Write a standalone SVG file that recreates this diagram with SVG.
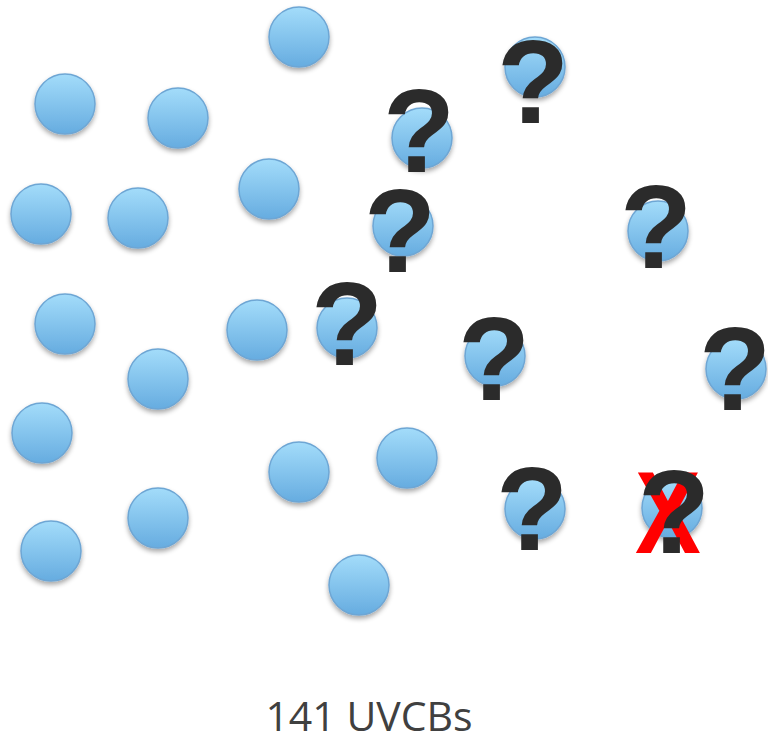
<svg xmlns="http://www.w3.org/2000/svg" width="768" height="736" viewBox="0 0 768 736">
<defs>
<linearGradient id="g" x1="0" y1="0" x2="0" y2="1">
<stop offset="0" stop-color="#a3dcfa"/>
<stop offset="1" stop-color="#66ace0"/>
</linearGradient>
<filter id="sh" x="-30%" y="-30%" width="160%" height="170%">
<feGaussianBlur in="SourceAlpha" stdDeviation="2.5"/>
<feOffset dy="3" result="b"/>
<feComponentTransfer><feFuncA type="linear" slope="0.35"/></feComponentTransfer>
<feMerge><feMergeNode/><feMergeNode in="SourceGraphic"/></feMerge>
</filter>
</defs>
<style>
.c{fill:url(#g);stroke:#6ea6d4;stroke-width:1.5;filter:url(#sh)}
.q{font-family:"Liberation Sans",Arial,sans-serif;font-weight:bold;font-size:118px;fill:#2b2b2b;text-anchor:middle}
.x{font-family:"Liberation Sans",Arial,sans-serif;font-weight:bold;font-size:116px;fill:#ff0000;text-anchor:middle}
.t{font-family:"Open Sans","Liberation Sans",sans-serif;font-size:41px;fill:#404040;text-anchor:middle}
</style>
<g id="nodes">
<g id="n1"><circle class="c" cx="299" cy="37" r="30"/></g>
<g id="n2"><circle class="c" cx="65" cy="104" r="30"/></g>
<g id="n3"><circle class="c" cx="178" cy="118" r="30"/></g>
<g id="n4"><circle class="c" cx="41" cy="214" r="30"/></g>
<g id="n5"><circle class="c" cx="138" cy="218" r="30"/></g>
<g id="n6"><circle class="c" cx="269" cy="189" r="30"/></g>
<g id="n7"><circle class="c" cx="65" cy="324" r="30"/></g>
<g id="n8"><circle class="c" cx="257" cy="330" r="30"/></g>
<g id="n9"><circle class="c" cx="158" cy="379" r="30"/></g>
<g id="n10"><circle class="c" cx="42" cy="433" r="30"/></g>
<g id="n11"><circle class="c" cx="299" cy="472" r="30"/></g>
<g id="n12"><circle class="c" cx="407" cy="458" r="30"/></g>
<g id="n13"><circle class="c" cx="158" cy="518" r="30"/></g>
<g id="n14"><circle class="c" cx="51" cy="551" r="30"/></g>
<g id="n15"><circle class="c" cx="359" cy="585" r="30"/></g>
<g id="q1"><circle class="c" cx="535" cy="67" r="30"/><text class="q" x="533" y="123">?</text></g>
<g id="q2"><circle class="c" cx="422" cy="138" r="30"/><text class="q" x="419" y="172">?</text></g>
<g id="q3"><circle class="c" cx="403" cy="226" r="30"/><text class="q" x="400" y="272">?</text></g>
<g id="q4"><circle class="c" cx="658" cy="231" r="30"/><text class="q" x="656" y="268">?</text></g>
<g id="q5"><circle class="c" cx="347" cy="328" r="30"/><text class="q" x="347" y="365">?</text></g>
<g id="q6"><circle class="c" cx="495" cy="356" r="30"/><text class="q" x="494" y="400">?</text></g>
<g id="q7"><circle class="c" cx="736" cy="369" r="30"/><text class="q" x="735" y="410">?</text></g>
<g id="q8"><circle class="c" cx="535" cy="509" r="30"/><text class="q" x="532" y="550">?</text></g>
<g id="q9"><circle class="c" cx="672" cy="508" r="30"/><text class="x" x="668" y="553" transform="translate(668 0) scale(0.85 1) translate(-668 0)">X</text><text class="q" x="674" y="553">?</text></g>
</g>
<g id="connectors"/>
<text class="t" x="369" y="731">141 UVCBs</text>
</svg>
